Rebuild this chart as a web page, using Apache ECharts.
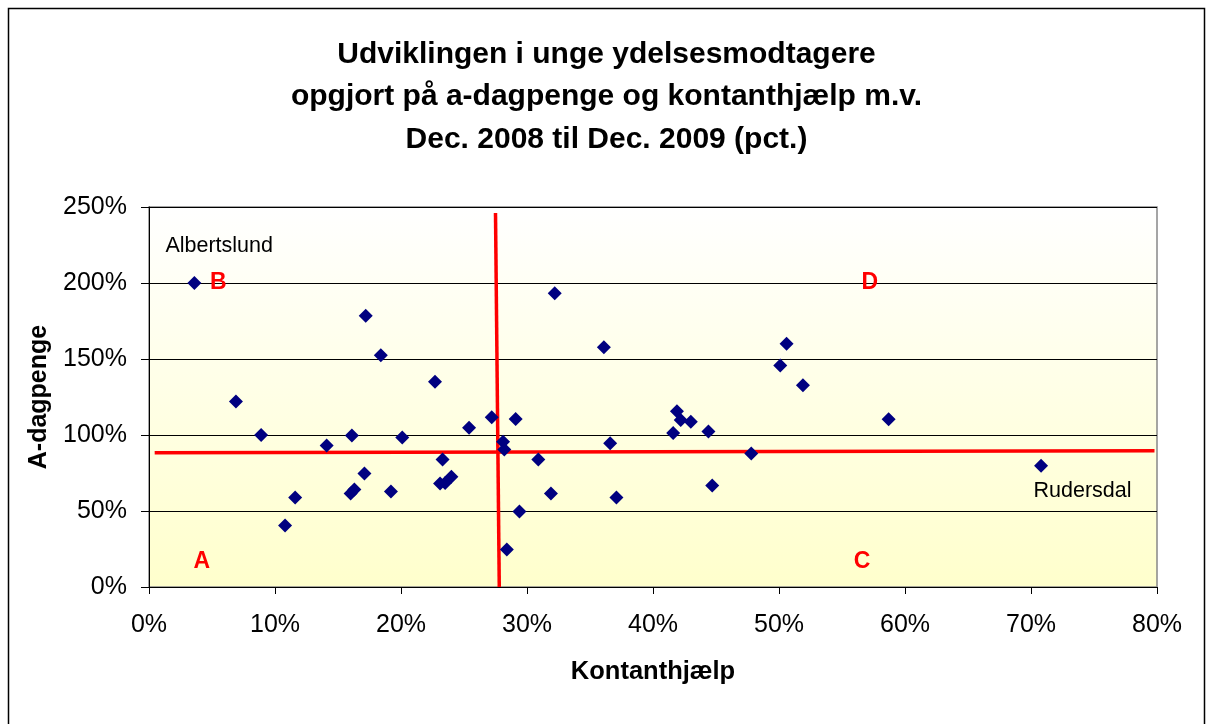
<!DOCTYPE html>
<html>
<head>
<meta charset="utf-8">
<script src="https://cdn.jsdelivr.net/npm/echarts@6/dist/echarts.min.js"></script>
<style>
html,body{margin:0;padding:0;background:#fff;}
#c{width:1213px;height:724px;}
</style>
</head>
<body>
<div id="c"></div>
<script>
// Data (percent)
var kontanthjaelp = [3.6,6.9,8.9,10.8,11.6,14.1,16.1,16.0,16.3,17.1,17.2,18.4,19.2,20.1,22.7,23.3,23.1,23.5,24.0,25.4,27.2,28.1,28.2,28.4,29.1,29.4,30.9,31.9,32.2,36.1,36.6,37.1,41.6,41.9,42.2,43.0,44.4,44.7,47.8,50.1,50.6,51.9,58.7,70.8];
var aDagpenge   = [200,122,100,40.4,58.9,93.1,99.7,61.5,64.2,74.7,178.5,152.4,62.8,98.4,135.1,83.9,68.1,68.5,72.5,104.7,111.6,95.5,90.5,24.6,110.5,49.7,83.9,61.5,193.3,157.7,94.5,58.9,101.3,115.7,109.8,108.7,102.3,66.8,87.9,145.8,160.1,132.7,110.3,79.7];
var xTicks = [0,10,20,30,40,50,60,70,80];
var yTicks = [0,50,100,150,200,250];
var verticalDivider   = [[27.5,246],[27.8,0]];
var horizontalDivider = [[0.45,88.3],[79.8,89.6]];
var municipalityNames = ['Albertslund','Rudersdal'];
var municipalityLabelPos = [[1.3,224],[70.2,62.8]];
var quadrantNames = ['A','B','C','D'];
var quadrantPos = [[4.2,16.5],[5.5,200],[56.6,16.5],[57.2,200]];

var points = kontanthjaelp.map(function(x,i){return [x,aDagpenge[i]];});
var FONT = 'Liberation Sans, Arial, sans-serif';

var chart = echarts.init(document.getElementById('c'));
chart.setOption({
  backgroundColor:'#ffffff',
  animation:false,
  title:{
    text:'Udviklingen i unge ydelsesmodtagere\nopgjort på a-dagpenge og kontanthjælp m.v.\nDec. 2008 til Dec. 2009 (pct.)',
    left:'center', top:28,
    textStyle:{fontFamily:FONT,fontSize:30,fontWeight:'bold',color:'#000',lineHeight:42.5}
  },
  graphic:[{
    type:'rect', shape:{x:8.5,y:8.5,width:1196,height:730},
    style:{fill:null,stroke:'#000',lineWidth:1.5}, z:-10, silent:true
  }],
  grid:{left:149,right:56,top:207,bottom:137,show:true,borderColor:'#888',borderWidth:1.5,
    backgroundColor:{type:'linear',x:0,y:0,x2:0,y2:1,colorStops:[{offset:0,color:'#FFFFFF'},{offset:1,color:'#FFFFCC'}]}},
  xAxis:{
    type:'value', min:0, max:80, interval:10,
    name:'Kontanthjælp', nameLocation:'middle', nameGap:72,
    nameTextStyle:{fontFamily:FONT,fontSize:25.5,fontWeight:'bold',color:'#000'},
    axisLine:{show:true,lineStyle:{color:'#000',width:1}},
    axisTick:{show:true,length:7,lineStyle:{color:'#000'}},
    axisLabel:{formatter:function(v){return xTicks.indexOf(v)>=0? v+'%':'';},fontFamily:FONT,fontSize:25,color:'#000',margin:26},
    splitLine:{show:false}
  },
  yAxis:{
    type:'value', min:0, max:250, interval:50,
    name:'A-dagpenge', nameLocation:'middle', nameGap:97, nameRotate:90,
    nameTextStyle:{fontFamily:FONT,fontSize:25,fontWeight:'bold',color:'#000'},
    axisLine:{show:true,lineStyle:{color:'#000',width:1}},
    axisTick:{show:true,length:8,lineStyle:{color:'#000'}},
    axisLabel:{formatter:function(v){return yTicks.indexOf(v)>=0? v+'%':'';},fontFamily:FONT,fontSize:25,color:'#000',margin:22},
    splitLine:{show:true,lineStyle:{color:'#000',width:1}}
  },
  series:[
    {type:'line', data:verticalDivider, symbol:'none', lineStyle:{color:'#FF0000',width:3.5}, z:3, silent:true},
    {type:'line', data:horizontalDivider, symbol:'none', lineStyle:{color:'#FF0000',width:3.5}, z:3, silent:true},
    {type:'scatter', data:points, symbol:'diamond', symbolSize:14, itemStyle:{color:'#000080',opacity:1}, z:5},
    {type:'scatter', symbolSize:0, z:6, silent:true, itemStyle:{opacity:1},
      data:municipalityNames.map(function(n,i){return {value:municipalityLabelPos[i],name:n};}),
      label:{show:true,position:'right',distance:0,formatter:'{b}',fontFamily:FONT,fontSize:21.5,color:'#000'}},
    {type:'scatter', symbolSize:0, z:6, silent:true, itemStyle:{opacity:1},
      data:quadrantNames.map(function(n,i){return {value:quadrantPos[i],name:n};}),
      label:{show:true,position:'inside',formatter:'{b}',fontFamily:FONT,fontSize:23,fontWeight:'bold',color:'#FF0000'}}
  ]
});
</script>
</body>
</html>
